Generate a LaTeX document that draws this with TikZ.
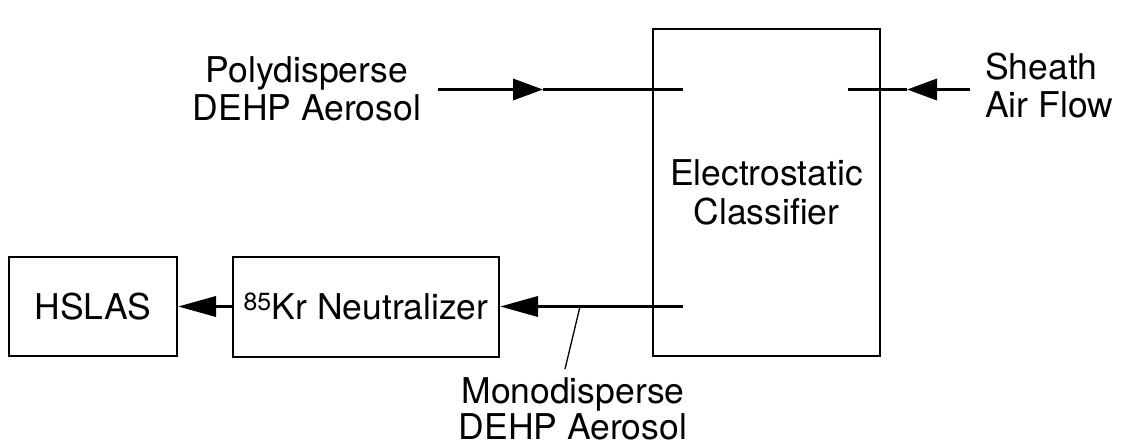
\documentclass[tikz,border=0pt]{standalone}
\usepackage{fontspec}
\setmainfont{TeX Gyre Heros}
\usetikzlibrary{arrows.meta}
\tikzset{
  blk/.style={draw, line width=2pt, inner sep=0pt, align=center, font=\fontsize{35.5}{38}\selectfont},
  lbl/.style={inner sep=0pt, font=\fontsize{35.5}{38}\selectfont},
  flow/.style={line width=3.6pt},
  tipA/.style={-{Triangle[length=30pt,width=21pt]}},
  tipB/.style={-{Triangle[length=38pt,width=20pt]}},
  leader/.style={line width=1.3pt}
}
\begin{document}
\begin{tikzpicture}[x=1pt,y=-1pt]
\useasboundingbox (0,0) rectangle (1128,447);
% boxes
\node[blk, minimum width=168pt, minimum height=99pt] (hslas) at (93,306.5) {HSLAS};
\node[blk, minimum width=266pt, minimum height=100pt] (neut) at (366,306.5) {\textsuperscript{85}Kr Neutralizer};
\node[blk, minimum width=227pt, minimum height=327pt] (cls) at (766.5,192.5) {Electrostatic\\[1pt]Classifier};
% labels
\node[lbl, align=center] (poly) at (307,89) {Polydisperse\\DEHP Aerosol};
\node[lbl, align=left, anchor=west] (sheath) at (985,86) {Sheath\\Air Flow};
\node[lbl, align=center, font=\fontsize{35.5}{36}\selectfont] (mono) at (573,409) {Monodisperse\\DEHP Aerosol};
% coordinates
\coordinate (pin) at (438,89.5);
\coordinate (pmid) at (543,89.5);
\coordinate (pstub) at (683,89.5);
\coordinate (sin) at (970,89.5);
\coordinate (smid) at (907,89.5);
\coordinate (sstub) at (848,89.5);
\coordinate (mstub) at (683,306.5);
\coordinate (ltop) at (580,306.5);
\coordinate (lbot) at (565,369);
% flows
\draw[flow, tipA] (pin) -- (pmid);
\draw[flow] (pmid) -- (pstub);
\draw[flow, tipA] (sin) -- (smid);
\draw[flow] (smid) -- (sstub);
\draw[flow, tipB] (mstub) -- (neut.east);
\draw[flow, tipB] (neut.west) -- (hslas.east);
\draw[leader] (ltop) -- (lbot);
\end{tikzpicture}
\end{document}
